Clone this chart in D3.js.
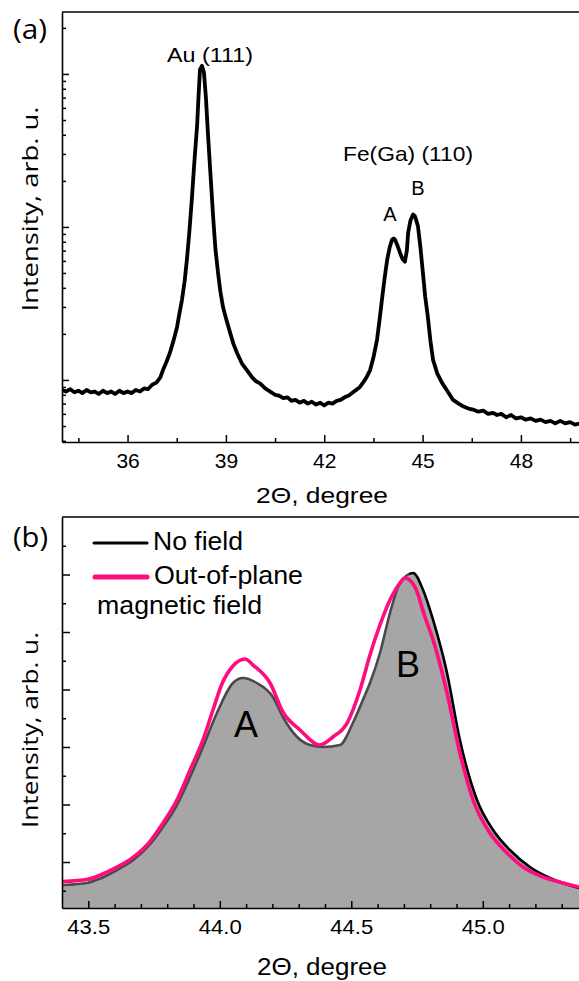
<!DOCTYPE html>
<html><head><meta charset="utf-8">
<script src="https://cdn.jsdelivr.net/npm/d3@7"></script>
<style>body{margin:0;background:#fff}</style></head>
<body><svg id="c" width="579" height="981"></svg>
<script>
// ---------- Panel (a): XRD scan, log intensity ----------
const thetaA = [34.00,34.12,34.25,34.38,34.50,34.62,34.75,34.88,35.00,35.12,35.25,35.38,35.50,35.62,35.75,35.88,36.00,36.12,36.25,36.38,36.50,36.62,36.75,36.88,37.00,
 37.08,37.18,37.29,37.40,37.51,37.58,37.66,37.74,37.81,37.88,37.96,38.04,38.12,38.17,38.21,38.27,38.33,38.39,38.45,38.53,38.61,38.68,38.76,38.83,38.91,39.02,39.13,39.23,39.34,39.49,39.64,39.80,39.92,
 40.04,40.20,40.35,40.50,40.62,40.75,40.88,41.00,41.12,41.25,41.38,41.50,41.62,41.75,41.88,42.00,42.12,42.25,42.38,42.50,42.62,42.75,42.88,43.00,43.09,43.20,43.30,
 43.40,43.50,43.61,43.68,43.76,43.84,43.92,44.00,44.07,44.12,44.16,44.23,44.31,44.39,44.46,44.52,44.56,44.63,44.71,44.76,44.80,44.86,44.93,45.01,45.08,45.16,45.24,45.32,45.45,45.59,45.75,45.93,
 46.10,46.25,46.40,46.54,46.70,46.85,47.00,47.15,47.27,47.40,47.55,47.70,47.85,48.00,48.15,48.30,48.45,48.60,48.75,48.90,49.05,49.20,49.35,49.50,49.65,49.80];
const intensA = [86,84,87,83,85,82,86,83,84,81,85,82,84,81,85,82,84,82,86,84,88,87,93,96,104,
 116,130,150,180,222,270,334,440,611,900,1510,2700,4540,7500,10720,11300,10240,7000,4150,2200,1167,720,502,380,301,245,203,172,150,128,116,104,98,
 95,88,84,80,79,76,77,73,74,71,73,70,72,69,71,68,71,70,73,74,77,79,83,87,90,97,105,
 116,140,183,240,334,460,611,740,826,840,826,760,679,615,593,700,918,1100,1205,1180,1120,1005,750,502,350,259,180,135,110,96,85,74,
 70,67,65,64,62,63,60,61,59,60,57,59,56,57,55,56,54,55,53,54,52,54,52,53,51,52];
const xTicksA = [36,39,42,45,48];
const xMinorA = [34.5,37.5,40.5,43.5,46.5,49.5];
const yMajorA = [100,1000,10000];

// ---------- Panel (b): Fe(Ga)(110) doublet, linear ----------
const thetaNo = [43.404,43.499,43.544,43.609,43.670,43.735,43.784,43.837,43.887,43.936,43.989,44.050,44.088,44.141,44.202,44.240,44.294,44.343,44.392,44.457,44.506,44.544,44.571,44.609,44.647,44.685,44.735,44.773,44.811,44.864,44.913,44.978,45.039,45.103,45.179,45.255,45.366];
const noField = [60.0,64.0,71.0,86.0,103.0,131.0,160.9,199.1,247.8,300.0,359.1,411.3,420.0,411.3,387.0,352.2,317.4,303.5,300.0,303.5,341.7,381.7,411.3,463.5,533.0,585.2,602.6,573.0,520.9,428.7,312.2,207.8,155.7,120.9,91.3,72.2,54.8];
const thetaOut = [43.404,43.499,43.544,43.609,43.670,43.735,43.784,43.837,43.887,43.936,43.974,44.008,44.050,44.096,44.126,44.191,44.240,44.305,44.381,44.430,44.484,44.533,44.571,44.609,44.647,44.685,44.704,44.742,44.780,44.811,44.864,44.913,44.963,45.027,45.092,45.153,45.229,45.305,45.366];
const outOfPlane = [66.0,70.0,77.0,91.0,108.0,136.0,167.8,207.8,260.0,312.2,364.3,409.6,440.9,453.0,442.6,411.3,360.9,329.6,303.5,317.4,341.7,399.1,460.0,512.2,555.7,585.2,593.9,578.3,526.1,486.1,393.9,289.6,207.8,150.4,115.7,91.3,73.9,63.5,56.5];
const xTicksB = [43.5,44.0,44.5,45.0];
const xMinorB = [43.6,43.7,43.8,43.9,44.1,44.2,44.3,44.4,44.6,44.7,44.8,44.9,45.1,45.2,45.3];
const yMajorB = [100,200,300,400,500,600];
const yMinorB = [50,150,250,350,450,550,650];

const svg = d3.select("#c");
svg.append("rect").attr("width",579).attr("height",981).attr("fill","#fff");
const ARIAL = "'Liberation Sans', Arial, sans-serif";
const SEGOE = "'Open Sans', 'Noto Sans', sans-serif";

function styleAxis(g, showDomain){
  g.select(".domain").attr("stroke", showDomain ? "#000" : "none").attr("stroke-width",1.6);
  g.selectAll(".tick line").attr("stroke","#000").attr("stroke-width",1.5);
  g.selectAll(".tick text").attr("fill","#000");
}

// ===== Panel (a) =====
const xA = d3.scaleLinear([34,50],[62,62+16*32.78]);
const yA = d3.scaleLog([39.3,25400],[442,12]);
const yMinorA = [];
[10,100,1000,10000].forEach(d=>{for(let k=2;k<=9;k++){const v=d*k; if(v>39.3&&v<25400&&!yMajorA.includes(v)) yMinorA.push(v);}});

svg.append("clipPath").attr("id","clipA").append("rect").attr("x",62).attr("y",12).attr("width",517).attr("height",430);
svg.append("path").datum(thetaA.map((t,i)=>[t,intensA[i]]))
  .attr("clip-path","url(#clipA)")
  .attr("fill","none").attr("stroke","#000").attr("stroke-width",3.8).attr("stroke-linejoin","round")
  .attr("d", d3.line().x(d=>xA(d[0])).y(d=>yA(d[1])));

let g = svg.append("g").attr("transform","translate(0,442)")
  .call(d3.axisBottom(xA).tickValues(xMinorA).tickSize(-4).tickSizeOuter(0).tickFormat(""));
styleAxis(g,false);
g = svg.append("g").attr("transform","translate(0,442)")
  .call(d3.axisBottom(xA).tickValues(xTicksA).tickSize(-7).tickSizeOuter(0).tickPadding(11).tickFormat(d3.format("d")));
styleAxis(g,true);
g.selectAll(".tick text").attr("font-family",ARIAL).attr("font-size",21);
g = svg.append("g").attr("transform","translate(62,0)")
  .call(d3.axisLeft(yA).tickValues(yMinorA).tickSize(-4).tickSizeOuter(0).tickFormat(""));
styleAxis(g,false);
g = svg.append("g").attr("transform","translate(62,0)")
  .call(d3.axisLeft(yA).tickValues(yMajorA).tickSize(-7).tickSizeOuter(0).tickFormat(""));
styleAxis(g,true);
svg.append("line").attr("x1",62).attr("x2",579).attr("y1",12).attr("y2",12).attr("stroke","#000").attr("stroke-width",1.6);

function txt(x,y,s,size,fam,anchor,len,rot){
  const t = svg.append("text").attr("x",x).attr("y",y).text(s)
    .attr("font-family",fam).attr("font-size",size).attr("fill","#000")
    .attr("text-anchor",anchor||"start");
  if(len) t.attr("textLength",len).attr("lengthAdjust","spacingAndGlyphs");
  if(rot) t.attr("transform",`rotate(${rot},${x},${y})`);
  return t;
}
txt(13,39,"(a)",28,SEGOE,"start",34);
txt(38,209,"Intensity, arb. u.",22,SEGOE,"middle",205,-90);
txt(322,503,"2\u0398, degree",22,ARIAL,"middle",132);
txt(210,62,"Au (111)",21,ARIAL,"middle",86);
txt(408,161,"Fe(Ga) (110)",21,ARIAL,"middle",130);
txt(418,195,"B",20,ARIAL,"middle");
txt(390,221,"A",20,ARIAL,"middle");

// ===== Panel (b) =====
const xB = d3.scaleLinear([43.4,45.4],[62,62+2*263]);
const yB = d3.scaleLinear([20,700],[908,517]);
svg.append("clipPath").attr("id","clipB").append("rect").attr("x",62).attr("y",517).attr("width",517).attr("height",391);
const noData = thetaNo.map((t,i)=>[t,noField[i]]);
const outData = thetaOut.map((t,i)=>[t,outOfPlane[i]]);
const gB = svg.append("g").attr("clip-path","url(#clipB)");
gB.append("path").datum(noData).attr("fill","#a6a6a6")
  .attr("d", d3.area().x(d=>xB(d[0])).y0(yB(20)).y1(d=>yB(d[1])).curve(d3.curveMonotoneX));
const grad = svg.append("defs").append("linearGradient").attr("id","edge")
  .attr("gradientUnits","userSpaceOnUse").attr("x1",62).attr("x2",579).attr("y1",0).attr("y2",0);
const stopAt = (xB(44.72)-62)/517;
grad.append("stop").attr("offset",0).attr("stop-color","#4a4a4a");
grad.append("stop").attr("offset",stopAt).attr("stop-color","#4a4a4a");
grad.append("stop").attr("offset",stopAt).attr("stop-color","#000");
grad.append("stop").attr("offset",1).attr("stop-color","#000");
gB.append("path").datum(noData).attr("fill","none").attr("stroke","url(#edge)").attr("stroke-width",2.6)
  .attr("stroke-linejoin","round")
  .attr("d", d3.line().x(d=>xB(d[0])).y(d=>yB(d[1])).curve(d3.curveMonotoneX));
gB.append("path").datum(outData).attr("fill","none").attr("stroke","#ff0d7c").attr("stroke-width",3.6)
  .attr("stroke-linejoin","round")
  .attr("d", d3.line().x(d=>xB(d[0])).y(d=>yB(d[1])).curve(d3.curveMonotoneX));

g = svg.append("g").attr("transform","translate(0,908)")
  .call(d3.axisBottom(xB).tickValues(xMinorB).tickSize(-4).tickSizeOuter(0).tickFormat(""));
styleAxis(g,false);
g = svg.append("g").attr("transform","translate(0,908)")
  .call(d3.axisBottom(xB).tickValues(xTicksB).tickSize(-7).tickSizeOuter(0).tickPadding(12).tickFormat(d3.format(".1f")));
styleAxis(g,true);
g.selectAll(".tick text").attr("font-family",ARIAL).attr("font-size",20).attr("textLength",43).attr("lengthAdjust","spacingAndGlyphs");
g = svg.append("g").attr("transform","translate(62,0)")
  .call(d3.axisLeft(yB).tickValues(yMinorB).tickSize(-4).tickSizeOuter(0).tickFormat(""));
styleAxis(g,false);
g = svg.append("g").attr("transform","translate(62,0)")
  .call(d3.axisLeft(yB).tickValues(yMajorB).tickSize(-8).tickSizeOuter(0).tickFormat(""));
styleAxis(g,true);
svg.append("line").attr("x1",62).attr("x2",579).attr("y1",517).attr("y2",517).attr("stroke","#000").attr("stroke-width",1.6);

txt(13,547,"(b)",28,SEGOE,"start",35);
txt(38,730,"Intensity, arb. u.",22,SEGOE,"middle",196,-90);
txt(322,975,"2\u0398, degree",23,ARIAL,"middle",130);
txt(246,737,"A",36,ARIAL,"middle");
txt(408,677,"B",36,ARIAL,"middle");

// legend
svg.append("line").attr("x1",94).attr("x2",147).attr("y1",543).attr("y2",543).attr("stroke","#000").attr("stroke-width",3).attr("stroke-linecap","round");
svg.append("line").attr("x1",95).attr("x2",147).attr("y1",577).attr("y2",577).attr("stroke","#ff0d7c").attr("stroke-width",5).attr("stroke-linecap","round");
txt(153,550,"No field",25,ARIAL,"start",90);
txt(154,584,"Out-of-plane",25,ARIAL,"start",149);
txt(97,614,"magnetic field",25,ARIAL,"start",165);
</script></body></html>
